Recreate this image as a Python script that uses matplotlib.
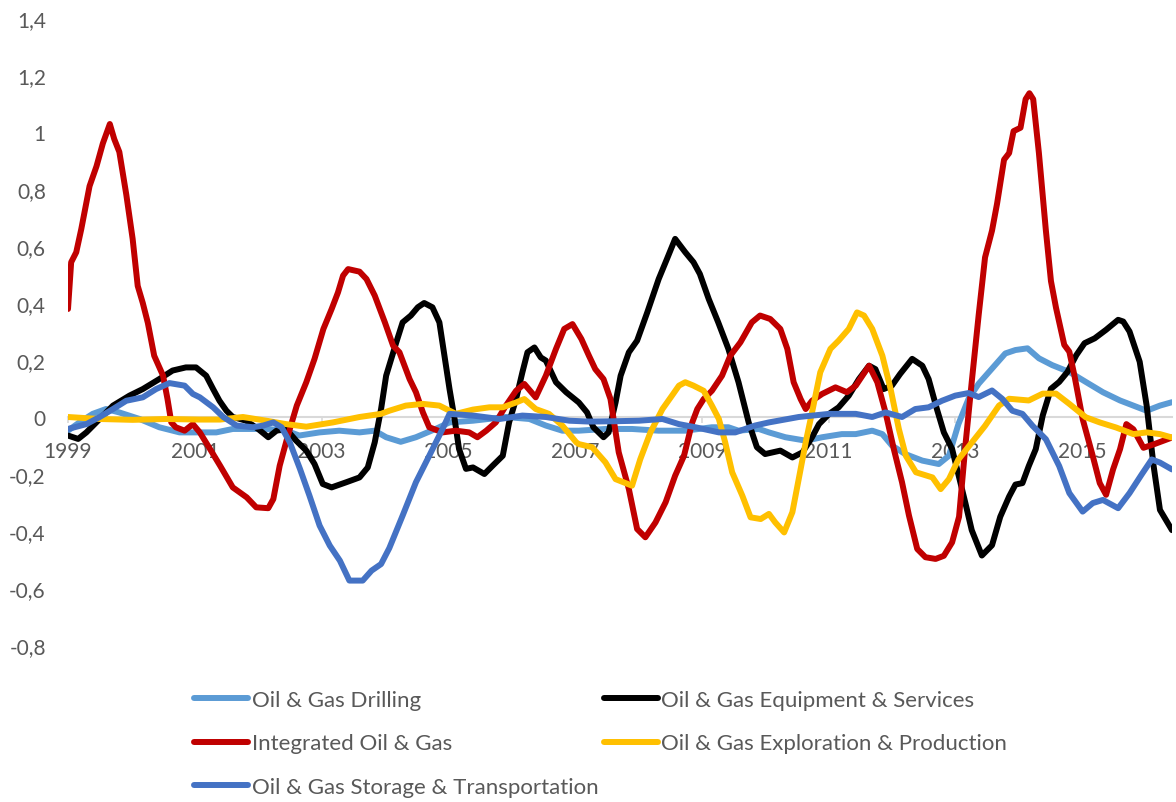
import matplotlib.pyplot as plt
from matplotlib.ticker import FuncFormatter

# Oil & gas sub-industry series, years as decimal dates
drill_x = [1999.0, 1999.18, 1999.39, 1999.6, 1999.81, 2000.13, 2000.44, 2000.76, 2001.07,
           2001.34, 2001.6, 2002.13, 2002.44, 2002.65, 2002.97, 2003.28, 2003.6, 2003.84,
           2004.02, 2004.25, 2004.49, 2004.8, 2005.02, 2005.39, 2005.91, 2006.28, 2006.54,
           2006.8, 2007.06, 2007.48, 2007.9, 2008.32, 2008.74, 2009.16, 2009.42, 2009.58,
           2009.9, 2010.06, 2010.32, 2010.64, 2010.9, 2011.21, 2011.43, 2011.69, 2011.85,
           2012.0, 2012.21, 2012.48, 2012.74, 2012.9, 2013.05, 2013.21, 2013.37, 2013.58,
           2013.79, 2013.95, 2014.14, 2014.32, 2014.53, 2014.8, 2015.06, 2015.33, 2015.6,
           2016.02, 2016.23, 2016.42]
drill_y = [-0.048, -0.019, 0.011, 0.028, 0.016, -0.007, -0.036, -0.054, -0.054,
           -0.054, -0.042, -0.042, -0.048, -0.065, -0.054, -0.048, -0.054, -0.048,
           -0.071, -0.087, -0.071, -0.042, -0.019, -0.013, 0.0, -0.007, -0.03,
           -0.048, -0.048, -0.042, -0.042, -0.048, -0.048, -0.036, -0.036, -0.048,
           -0.042, -0.054, -0.071, -0.083, -0.071, -0.06, -0.06, -0.048, -0.06,
           -0.1, -0.13, -0.153, -0.165, -0.136, -0.025, 0.064, 0.117, 0.17,
           0.223, 0.235, 0.241, 0.206, 0.182, 0.158, 0.123, 0.087, 0.058,
           0.022, 0.04, 0.052]

equip_x = [1999.0, 1999.16, 1999.29, 1999.5, 1999.71, 1999.97, 2000.18, 2000.44, 2000.65,
           2000.86, 2001.02, 2001.18, 2001.29, 2001.39, 2001.5, 2001.6, 2001.81, 2002.0,
           2002.16, 2002.29, 2002.44, 2002.6, 2002.76, 2002.89, 2003.02, 2003.16, 2003.39,
           2003.6, 2003.73, 2003.84, 2003.94, 2004.02, 2004.18, 2004.28, 2004.41, 2004.52,
           2004.62, 2004.75, 2004.86, 2004.94, 2005.02, 2005.1, 2005.17, 2005.28, 2005.39,
           2005.57, 2005.7, 2005.86, 2005.96, 2006.07, 2006.17, 2006.25, 2006.36, 2006.46,
           2006.54, 2006.7, 2006.86, 2007.06, 2007.19, 2007.29, 2007.45, 2007.53, 2007.64,
           2007.72, 2007.85, 2007.98, 2008.14, 2008.32, 2008.45, 2008.58, 2008.74, 2008.87,
           2008.97, 2009.11, 2009.26, 2009.42, 2009.58, 2009.74, 2009.87, 2010.0, 2010.24,
           2010.43, 2010.59, 2010.74, 2010.85, 2011.01, 2011.16, 2011.32, 2011.48, 2011.64,
           2011.74, 2011.87, 2012.0, 2012.13, 2012.32, 2012.48, 2012.58, 2012.71, 2012.82,
           2012.95, 2013.07, 2013.16, 2013.26, 2013.42, 2013.58, 2013.71, 2013.85, 2013.95,
           2014.06, 2014.16, 2014.27, 2014.38, 2014.51, 2014.64, 2014.77, 2014.91, 2015.04,
           2015.2, 2015.38, 2015.57, 2015.65, 2015.75, 2015.91, 2016.02, 2016.13, 2016.23,
           2016.42]
equip_y = [-0.065, -0.077, -0.054, -0.007, 0.04, 0.075, 0.098, 0.133, 0.163,
           0.174, 0.174, 0.145, 0.098, 0.057, 0.022, 0.0, -0.013, -0.042,
           -0.071, -0.048, -0.042, -0.083, -0.118, -0.165, -0.235, -0.247, -0.229,
           -0.212, -0.177, -0.089, 0.028, 0.145, 0.262, 0.332, 0.356, 0.385,
           0.4, 0.385, 0.332, 0.215, 0.098, -0.007, -0.112, -0.182, -0.177,
           -0.2, -0.171, -0.136, -0.019, 0.063, 0.157, 0.227, 0.244, 0.209,
           0.198, 0.122, 0.087, 0.051, 0.016, -0.036, -0.071, -0.054, 0.051,
           0.145, 0.227, 0.268, 0.367, 0.484, 0.554, 0.625, 0.578, 0.543,
           0.502, 0.414, 0.332, 0.239, 0.122, -0.019, -0.106, -0.13, -0.118,
           -0.142, -0.124, -0.071, -0.025, 0.011, 0.034, 0.075, 0.133, 0.18,
           0.168, 0.098, 0.11, 0.151, 0.204, 0.18, 0.133, 0.028, -0.054,
           -0.112, -0.22, -0.302, -0.397, -0.486, -0.45, -0.35, -0.279, -0.237,
           -0.232, -0.172, -0.113, 0.005, 0.099, 0.123, 0.158, 0.217, 0.259,
           0.276, 0.306, 0.341, 0.335, 0.3, 0.194, 0.04, -0.172, -0.326,
           -0.397]

integ_x = [1999.0, 1999.05, 1999.13, 1999.21, 1999.34, 1999.45, 1999.55, 1999.66, 1999.73,
           1999.81, 1999.92, 2000.02, 2000.1, 2000.18, 2000.26, 2000.36, 2000.5, 2000.57,
           2000.63, 2000.7, 2000.84, 2000.97, 2001.08, 2001.24, 2001.4, 2001.6, 2001.82,
           2001.97, 2002.16, 2002.24, 2002.34, 2002.47, 2002.61, 2002.76, 2002.89, 2003.03,
           2003.16, 2003.26, 2003.34, 2003.42, 2003.6, 2003.71, 2003.84, 2004.0, 2004.13,
           2004.23, 2004.39, 2004.49, 2004.6, 2004.7, 2004.91, 2005.12, 2005.33, 2005.46,
           2005.6, 2005.75, 2005.91, 2006.07, 2006.2, 2006.38, 2006.54, 2006.7, 2006.83,
           2006.96, 2007.1, 2007.22, 2007.32, 2007.45, 2007.56, 2007.69, 2007.85, 2007.98,
           2008.11, 2008.27, 2008.43, 2008.58, 2008.72, 2008.85, 2008.93, 2009.03, 2009.16,
           2009.32, 2009.45, 2009.61, 2009.79, 2009.92, 2010.08, 2010.24, 2010.35, 2010.45,
           2010.56, 2010.64, 2010.74, 2010.9, 2011.11, 2011.29, 2011.43, 2011.64, 2011.77,
           2011.9, 2012.03, 2012.16, 2012.27, 2012.4, 2012.53, 2012.69, 2012.82, 2012.95,
           2013.06, 2013.16, 2013.26, 2013.37, 2013.47, 2013.58, 2013.66, 2013.77, 2013.85,
           2013.92, 2014.03, 2014.11, 2014.17, 2014.23, 2014.32, 2014.43, 2014.51, 2014.59,
           2014.72, 2014.8, 2014.88, 2015.01, 2015.17, 2015.28, 2015.38, 2015.49, 2015.6,
           2015.7, 2015.81, 2015.97, 2016.13, 2016.42]
integ_y = [0.379, 0.543, 0.578, 0.66, 0.81, 0.88, 0.96, 1.028, 0.975,
           0.93, 0.78, 0.625, 0.46, 0.40, 0.33, 0.215, 0.145, 0.063,
           -0.019, -0.036, -0.048, -0.025, -0.054, -0.112, -0.171, -0.247, -0.282,
           -0.317, -0.32, -0.288, -0.171, -0.065, 0.04, 0.122, 0.204, 0.309,
           0.379, 0.437, 0.496, 0.519, 0.51, 0.484, 0.426, 0.332, 0.25,
           0.227, 0.133, 0.087, 0.016, -0.036, -0.054, -0.048, -0.054, -0.071,
           -0.048, -0.019, 0.04, 0.092, 0.116, 0.069, 0.145, 0.239, 0.309,
           0.326, 0.274, 0.215, 0.168, 0.133, 0.063, -0.124, -0.253, -0.393,
           -0.422, -0.37, -0.299, -0.206, -0.136, -0.019, 0.028, 0.063, 0.092,
           0.145, 0.215, 0.262, 0.332, 0.356, 0.344, 0.309, 0.239, 0.122,
           0.063, 0.028, 0.057, 0.081, 0.104, 0.087, 0.11, 0.18, 0.122,
           0.016, -0.112, -0.229, -0.346, -0.463, -0.492, -0.498, -0.487, -0.44,
           -0.35, -0.1, 0.123, 0.359, 0.56, 0.654, 0.749, 0.903, 0.926,
           1.003, 1.015, 1.115, 1.136, 1.115, 0.926, 0.654, 0.477, 0.383,
           0.253, 0.229, 0.146, -0.007, -0.137, -0.232, -0.273, -0.184, -0.113,
           -0.025, -0.043, -0.108, -0.096, -0.072]

explor_x = [1999.0, 1999.5, 2000.02, 2000.55, 2001.07, 2001.4, 2001.76, 2002.13, 2002.44,
            2002.76, 2003.18, 2003.6, 2003.94, 2004.07, 2004.33, 2004.6, 2004.86, 2005.12,
            2005.39, 2005.65, 2005.86, 2006.07, 2006.2, 2006.38, 2006.59, 2006.8, 2007.02,
            2007.06, 2007.27, 2007.48, 2007.64, 2007.9, 2008.03, 2008.19, 2008.38, 2008.53,
            2008.64, 2008.74, 2008.87, 2009.03, 2009.16, 2009.27, 2009.37, 2009.48, 2009.64,
            2009.77, 2009.93, 2010.06, 2010.16, 2010.3, 2010.43, 2010.53, 2010.64, 2010.74,
            2010.87, 2011.03, 2011.16, 2011.32, 2011.45, 2011.56, 2011.69, 2011.85, 2011.98,
            2012.11, 2012.22, 2012.38, 2012.64, 2012.77, 2012.9, 2013.05, 2013.26, 2013.47,
            2013.69, 2013.85, 2014.16, 2014.38, 2014.59, 2014.8, 2015.06, 2015.28, 2015.54,
            2015.81, 2016.02, 2016.23, 2016.42]
explor_y = [0.0, -0.007, -0.01, -0.007, -0.009, -0.009, 0.0, -0.013, -0.025,
            -0.034, -0.019, 0.0, 0.011, 0.022, 0.04, 0.046, 0.04, 0.011,
            0.026, 0.034, 0.034, 0.051, 0.063, 0.028, 0.011, -0.03, -0.089,
            -0.095, -0.106, -0.159, -0.218, -0.241, -0.148, -0.054, 0.028, 0.075,
            0.11, 0.122, 0.11, 0.092, 0.04, -0.007, -0.089, -0.194, -0.276,
            -0.352, -0.358, -0.34, -0.37, -0.405, -0.334, -0.218, -0.089, 0.016,
            0.157, 0.239, 0.268, 0.309, 0.367, 0.356, 0.309, 0.215, 0.098,
            -0.042, -0.136, -0.194, -0.212, -0.253, -0.218, -0.149, -0.09, -0.031,
            0.04, 0.064, 0.058, 0.082, 0.082, 0.046, -0.001, -0.019, -0.037,
            -0.06, -0.054, -0.06, -0.072]

storage_x = [1999.0, 1999.29, 1999.5, 1999.71, 1999.92, 2000.18, 2000.39, 2000.6, 2000.84,
             2000.97, 2001.08, 2001.29, 2001.45, 2001.66, 2001.92, 2002.08, 2002.24, 2002.37,
             2002.5, 2002.66, 2002.81, 2002.97, 2003.13, 2003.29, 2003.44, 2003.65, 2003.79,
             2003.94, 2004.07, 2004.28, 2004.49, 2004.7, 2004.91, 2005.02, 2005.39, 2005.81,
             2006.17, 2006.54, 2006.91, 2007.22, 2007.59, 2008.01, 2008.38, 2008.64, 2008.9,
             2009.27, 2009.53, 2009.84, 2010.06, 2010.53, 2011.01, 2011.43, 2011.69, 2011.9,
             2012.16, 2012.37, 2012.58, 2012.79, 2013.0, 2013.21, 2013.37, 2013.58, 2013.74,
             2013.9, 2014.06, 2014.22, 2014.43, 2014.64, 2014.8, 2015.01, 2015.17, 2015.33,
             2015.57, 2015.75, 2015.94, 2016.1, 2016.23, 2016.42]
storage_y = [-0.042, -0.025, 0.0, 0.028, 0.057, 0.069, 0.098, 0.119, 0.11,
             0.081, 0.069, 0.034, 0.0, -0.03, -0.036, -0.03, -0.019, -0.036,
             -0.089, -0.182, -0.276, -0.381, -0.451, -0.504, -0.574, -0.574, -0.539,
             -0.516, -0.46, -0.346, -0.229, -0.136, -0.042, 0.011, 0.005, -0.007,
             0.005, 0.0, -0.013, -0.016, -0.015, -0.013, -0.007, -0.025, -0.036,
             -0.054, -0.054, -0.03, -0.019, 0.0, 0.011, 0.011, 0.0, 0.016,
             0.0, 0.028, 0.034, 0.057, 0.075, 0.084, 0.07, 0.093, 0.064,
             0.022, 0.011, -0.031, -0.078, -0.172, -0.267, -0.332, -0.302, -0.291,
             -0.32, -0.267, -0.202, -0.149, -0.16, -0.184]

year_ticks = [1999, 2001, 2003, 2005, 2007, 2009, 2011, 2013, 2015]

series = [
    ('Oil & Gas Drilling', drill_x, drill_y, '#5B9BD5'),
    ('Oil & Gas Equipment & Services', equip_x, equip_y, '#000000'),
    ('Integrated Oil & Gas', integ_x, integ_y, '#C00000'),
    ('Oil & Gas Exploration & Production', explor_x, explor_y, '#FFC000'),
    ('Oil & Gas Storage & Transportation', storage_x, storage_y, '#4472C4'),
]


def comma_fmt(v, _):
    s = '%g' % round(v, 1)
    if s in ('-0', '0'):
        return '0'
    return s.replace('.', ',')


plt.rcParams['font.family'] = ['Lato', 'DejaVu Sans']
text_grey = '#595959'

fig = plt.figure(figsize=(11.76, 8.03), dpi=100)
ax = fig.add_axes([68 / 1176, 157 / 803, 1104 / 1176, 627 / 803])

lines = {}
for name, xs, ys, col in series:
    ln, = ax.plot(xs, ys, color=col, lw=4.3, label=name,
                  solid_capstyle='round', solid_joinstyle='round')
    lines[name] = ln

ax.set_xlim(1999.0, 2016.42)
ax.set_ylim(-0.8, 1.4)
ax.set_yticks([i / 10 for i in range(-8, 15, 2)])
ax.yaxis.set_major_formatter(FuncFormatter(comma_fmt))
ax.tick_params(axis='y', length=0, pad=16, labelsize=15, labelcolor=text_grey)

# category axis sits on the zero line
for s in ['left', 'right', 'top']:
    ax.spines[s].set_visible(False)
ax.spines['bottom'].set_position(('data', 0))
ax.spines['bottom'].set_color('#D9D9D9')
ax.spines['bottom'].set_linewidth(1.5)
ax.spines['bottom'].set_zorder(0)
ax.set_xticks(year_ticks)
ax.set_xticklabels([str(y) for y in year_ticks])
ax.tick_params(axis='x', length=4, width=1.2, color='#D9D9D9', pad=13,
               labelsize=15, labelcolor=text_grey)

# legend filled row by row: drilling, equipment / integrated, E&P / storage
order = [0, 2, 4, 1, 3]
handles = [lines[series[i][0]] for i in order]
labels = [series[i][0] for i in order]
leg = fig.legend(handles, labels, ncol=2, loc='upper left',
                 bbox_to_anchor=(194 / 1176, 1 - 691 / 803), frameon=False,
                 fontsize=16, handlelength=2.45, handletextpad=0.14,
                 columnspacing=0.25, labelspacing=1.05, borderpad=0, borderaxespad=0)
for t in leg.get_texts():
    t.set_color(text_grey)

fig.savefig('out.png', dpi=100)
